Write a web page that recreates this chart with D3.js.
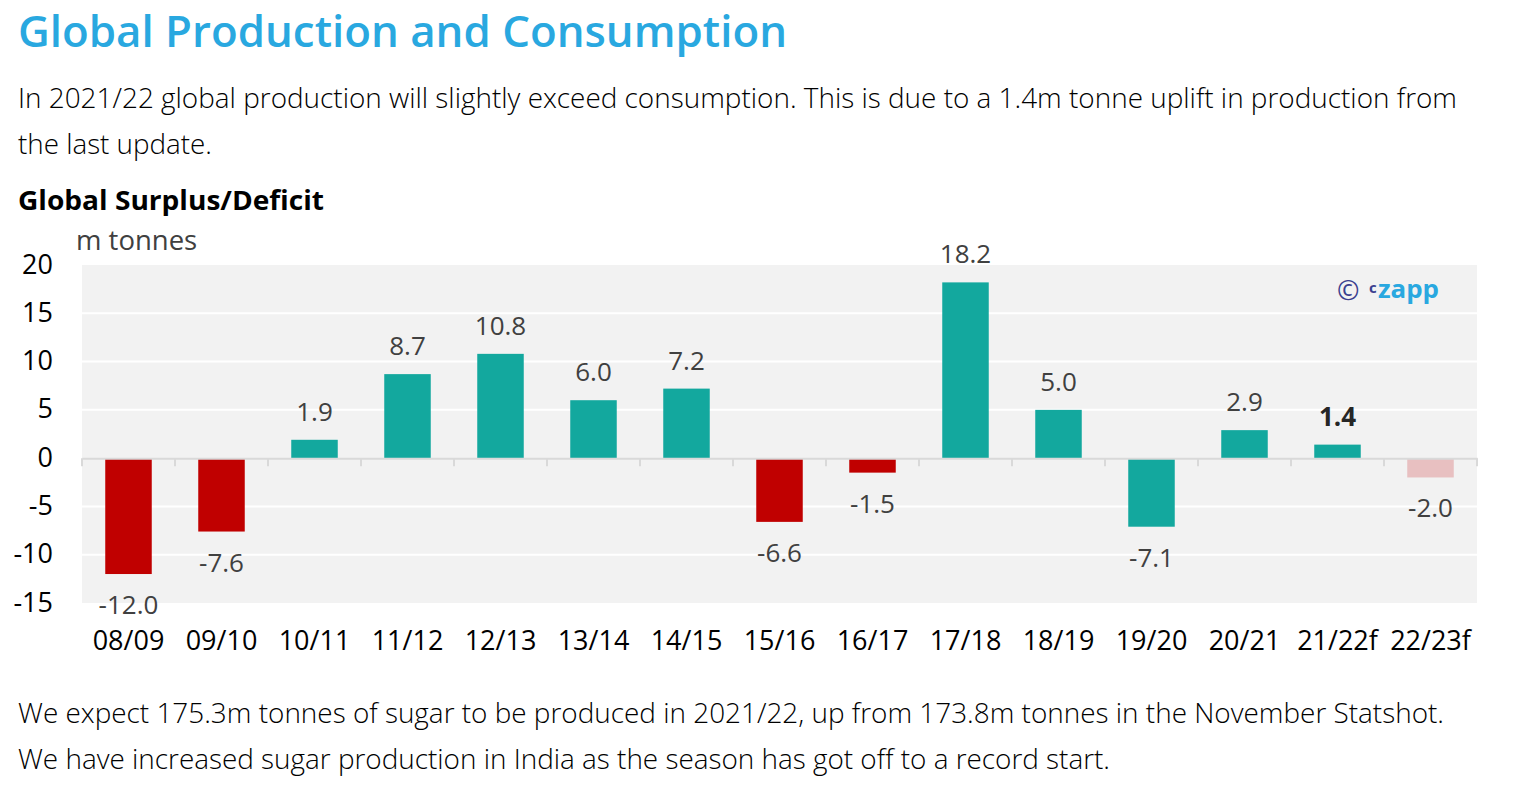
<!DOCTYPE html>
<html><head><meta charset="utf-8">
<script src="https://cdn.jsdelivr.net/npm/d3@7"></script>
<style>
html,body{margin:0;padding:0;background:#fff;}
svg{display:block;font-family:"Open Sans",sans-serif;}
</style></head>
<body><svg id="c" width="1534" height="800"></svg>
<script>
const categories = ["08/09","09/10","10/11","11/12","12/13","13/14","14/15","15/16","16/17","17/18","18/19","19/20","20/21","21/22f","22/23f"];
const values = [-12.0,-7.6,1.9,8.7,10.8,6.0,7.2,-6.6,-1.5,18.2,5.0,-7.1,2.9,1.4,-2.0];
const barColors = ["#c00000","#c00000","#13a89e","#13a89e","#13a89e","#13a89e","#13a89e","#c00000","#c00000","#13a89e","#13a89e","#13a89e","#13a89e","#13a89e","#e8c0c1"];
const boldLabel = [false,false,false,false,false,false,false,false,false,false,false,false,false,true,false];
const yTicks = [20,15,10,5,0,-5,-10,-15];

const svg = d3.select("#c");
const M = {left:82, right:1477, top:265, bottom:603};

// texts
svg.append("text").attr("x",18).attr("y",47).attr("fill","#29a8e0").attr("font-size",44).attr("font-weight",600)
  .attr("textLength",769).attr("lengthAdjust","spacingAndGlyphs").text("Global Production and Consumption");
const para = [
  {t:"In 2021/22 global production will slightly exceed consumption. This is due to a 1.4m tonne uplift in production from", y:108, w:1439},
  {t:"the last update.", y:154, w:194},
  {t:"We expect 175.3m tonnes of sugar to be produced in 2021/22, up from 173.8m tonnes in the November Statshot.", y:723, w:1426},
  {t:"We have increased sugar production in India as the season has got off to a record start.", y:769, w:1092}
];
para.forEach(p=>{
  svg.append("text").attr("x",18).attr("y",p.y).attr("fill","#000").attr("font-size",28).attr("font-weight",300)
    .attr("textLength",p.w).attr("lengthAdjust","spacingAndGlyphs").text(p.t);
});
svg.append("text").attr("x",18).attr("y",210).attr("fill","#000").attr("font-size",26).attr("font-weight",700)
  .attr("textLength",306).attr("lengthAdjust","spacingAndGlyphs").text("Global Surplus/Deficit");
svg.append("text").attr("x",76).attr("y",250).attr("fill","#404040").attr("font-size",27.5).text("m tonnes");

const x = d3.scaleBand().domain(categories).range([M.left,M.right]).paddingInner(0.5).paddingOuter(0.25);
const xb = d3.scaleBand().domain(categories).range([M.left,M.right]);
const y = d3.scaleLinear().domain([-15,20]).range([M.bottom,M.top]);

const g = svg.append("g");
g.append("rect").attr("x",M.left).attr("y",M.top).attr("width",M.right-M.left).attr("height",M.bottom-M.top).attr("fill","#f2f2f2");
// gridlines
g.selectAll("line.grid").data(yTicks.filter(d=>d!==0 && d!==20 && d!==-15)).join("line")
  .attr("x1",M.left).attr("x2",M.right).attr("y1",d=>y(d)).attr("y2",d=>y(d)).attr("stroke","#fff").attr("stroke-width",2);

// y axis labels
const yAxis = d3.axisLeft(y).tickValues(yTicks).tickSize(0).tickPadding(0).tickFormat(d=>String(d));
const ya = svg.append("g").attr("transform","translate(53,0)").call(yAxis);
ya.select(".domain").remove();
ya.selectAll("text").attr("font-size",27).attr("fill","#000").attr("font-family","Open Sans").attr("dy","0.3em");

// bars
g.selectAll("rect.bar").data(values).join("rect")
  .attr("x",(d,i)=>x(categories[i])).attr("width",x.bandwidth())
  .attr("y",d=>y(Math.max(0,d))).attr("height",d=>Math.abs(y(d)-y(0)))
  .attr("fill",(d,i)=>barColors[i]);

// zero axis with ticks between categories
const xa = svg.append("g").attr("transform",`translate(0,${y(0)})`)
  .call(d3.axisBottom(xb).tickSize(0).tickFormat(""));
xa.select(".domain").attr("stroke","#d9d9d9").attr("stroke-width",2);
xa.selectAll(".tick").remove();
const bounds = categories.map(c=>xb(c)).concat([M.right]);
svg.append("g").selectAll("line").data(bounds).join("line")
  .attr("x1",d=>d).attr("x2",d=>d).attr("y1",y(0)).attr("y2",y(0)+8).attr("stroke","#d9d9d9").attr("stroke-width",2);

// x labels
const xl = svg.append("g").attr("transform","translate(0,650)").call(d3.axisBottom(xb).tickSize(0).tickPadding(0));
xl.select(".domain").remove();
xl.selectAll("text").attr("font-size",27).attr("fill","#000").attr("font-family","Open Sans").attr("dy",0);

// value labels
svg.append("g").selectAll("text").data(values).join("text")
  .attr("x",(d,i)=>x(categories[i])+x.bandwidth()/2)
  .attr("y",d=> d>=0 ? y(d)-19 : y(d)+40)
  .attr("text-anchor","middle").attr("font-size",26)
  .attr("font-weight",(d,i)=>boldLabel[i]?700:400)
  .attr("fill",(d,i)=>boldLabel[i]?"#262626":"#404040")
  .text(d=>d.toFixed(1));

// logo
const logo = svg.append("g");
logo.append("text").attr("x",1337).attr("y",300).attr("font-size",27).attr("fill","#3b3f8f").text("©");
logo.append("text").attr("x",1369).attr("y",293).attr("font-size",15).attr("font-weight",700).attr("fill","#3b3f8f").text("c");
logo.append("text").attr("x",1378).attr("y",298).attr("font-size",25).attr("font-weight",700).attr("fill","#29a8e0")
  .attr("textLength",61).attr("lengthAdjust","spacingAndGlyphs").text("zapp");
</script></body></html>
